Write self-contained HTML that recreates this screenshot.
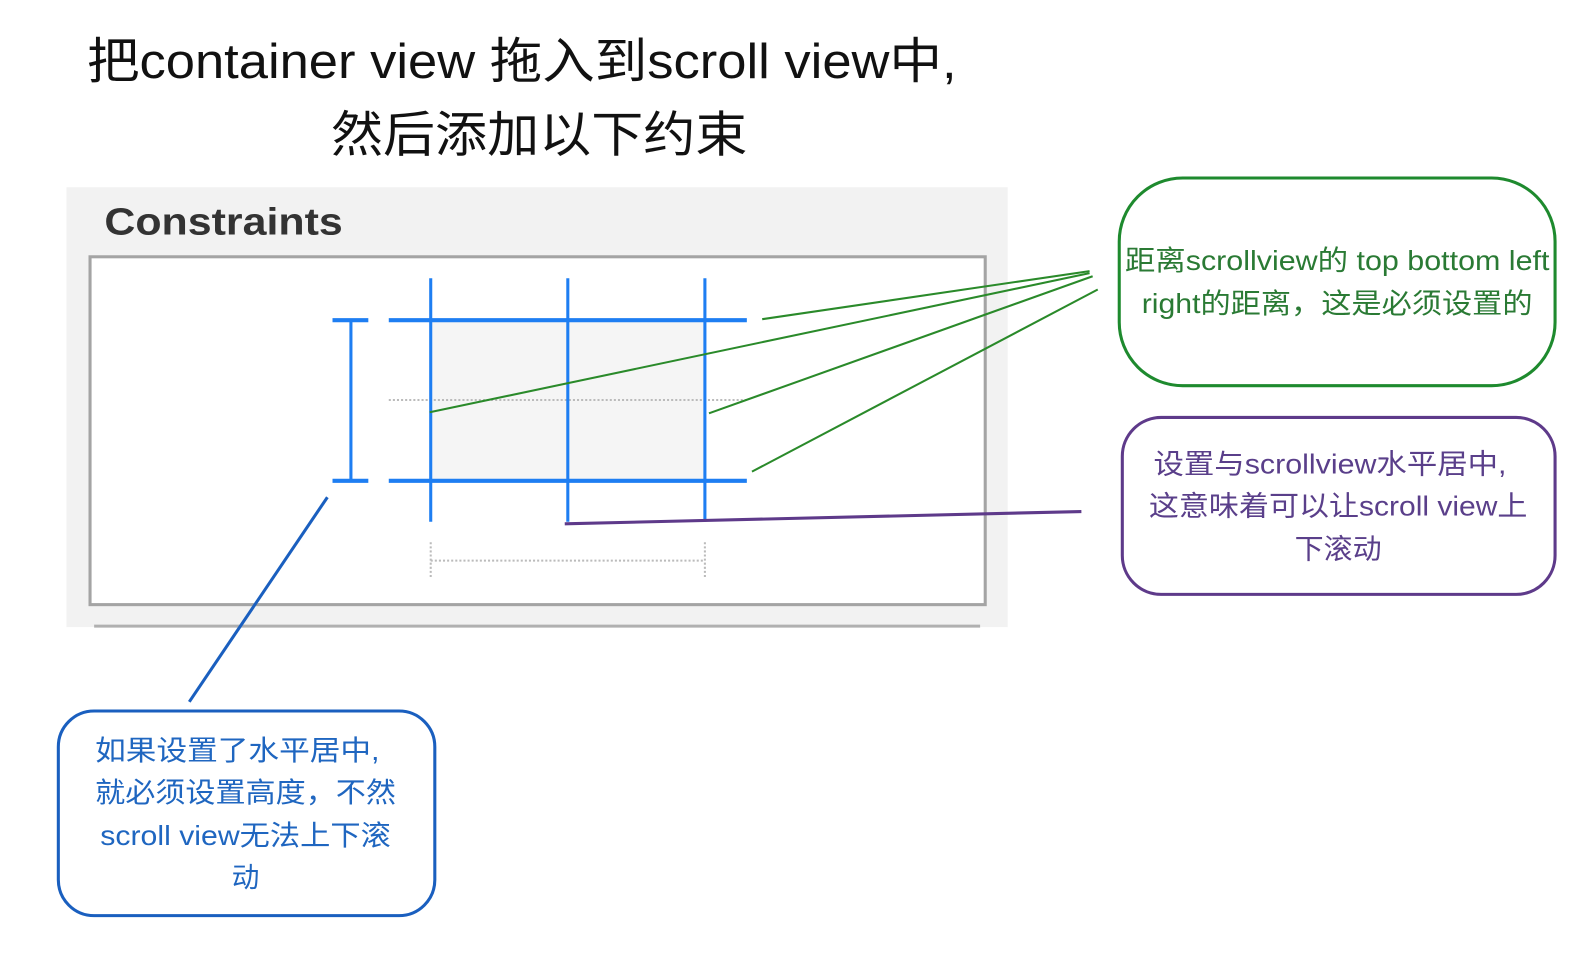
<!DOCTYPE html>
<html><head><meta charset="utf-8"><style>
html,body{margin:0;padding:0;background:#fff;width:1596px;height:976px;overflow:hidden}
svg{display:block}
text{font-family:"Liberation Sans","Noto Sans CJK SC",sans-serif}
</style></head><body>
<svg width="1596" height="976" viewBox="0 0 1560 954" xmlns="http://www.w3.org/2000/svg">
<text x="510" y="76" font-size="48" text-anchor="middle" fill="#111" textLength="850" lengthAdjust="spacingAndGlyphs">把container view 拖入到scroll view中,</text>
<text x="527" y="148" font-size="48" text-anchor="middle" fill="#111" textLength="407" lengthAdjust="spacingAndGlyphs">然后添加以下约束</text>
<rect x="65" y="183" width="920" height="430" fill="#f2f2f2"/>
<text x="102" y="229" font-size="37" font-weight="bold" fill="#333" textLength="233" lengthAdjust="spacingAndGlyphs">Constraints</text>
<rect x="88" y="251" width="875" height="340" fill="#fff" stroke="#a4a4a4" stroke-width="3"/>
<line x1="92" y1="612" x2="958" y2="612" stroke="#b0b0b0" stroke-width="3"/>
<rect x="421" y="313" width="268" height="157" fill="#f5f5f5"/>
<g stroke="#bbb" stroke-width="2" stroke-dasharray="2,2">
<line x1="380" y1="391" x2="730" y2="391"/>
<line x1="421" y1="548" x2="689" y2="548"/>
<line x1="421" y1="530" x2="421" y2="566"/>
<line x1="689" y1="530" x2="689" y2="566"/>
</g>
<g stroke="#1e7ef2" fill="none">
<line x1="421" y1="272" x2="421" y2="510" stroke-width="3"/>
<line x1="555" y1="272" x2="555" y2="510" stroke-width="3"/>
<line x1="689" y1="272" x2="689" y2="510" stroke-width="3"/>
<line x1="380" y1="313" x2="730" y2="313" stroke-width="4"/>
<line x1="380" y1="470" x2="730" y2="470" stroke-width="4"/>
<line x1="343" y1="313" x2="343" y2="470" stroke-width="3"/>
<line x1="325" y1="313" x2="360" y2="313" stroke-width="4"/>
<line x1="325" y1="470" x2="360" y2="470" stroke-width="4"/>
</g>
<g stroke="#2a8a2a" stroke-width="2">
<line x1="1065" y1="265" x2="745" y2="312"/>
<line x1="1065" y1="267" x2="420" y2="403"/>
<line x1="1068" y1="270" x2="693" y2="404"/>
<line x1="1073" y1="283" x2="735" y2="461"/>
</g>
<line x1="552" y1="512" x2="1057" y2="500" stroke="#5e3a8a" stroke-width="3"/>
<line x1="320" y1="486" x2="185" y2="686" stroke="#1a5fbf" stroke-width="3"/>
<rect x="1094" y="174" width="426" height="203" rx="62" fill="#fff" stroke="#1e8a2e" stroke-width="3"/>
<text x="1307" y="264" font-size="27" text-anchor="middle" fill="#2a7a34" textLength="415" lengthAdjust="spacingAndGlyphs">距离scrollview的 top bottom left</text>
<text x="1307" y="306" font-size="27" text-anchor="middle" fill="#2a7a34" textLength="382" lengthAdjust="spacingAndGlyphs">right的距离，这是必须设置的</text>
<rect x="1097" y="408" width="423" height="173" rx="38" fill="#fff" stroke="#5e3a8a" stroke-width="3"/>
<text x="1300" y="463" font-size="27" text-anchor="middle" fill="#5a3f8a" textLength="345" lengthAdjust="spacingAndGlyphs">设置与scrollview水平居中,</text>
<text x="1308" y="504" font-size="27" text-anchor="middle" fill="#5a3f8a" textLength="370" lengthAdjust="spacingAndGlyphs">这意味着可以让scroll view上</text>
<text x="1308" y="546" font-size="27" text-anchor="middle" fill="#5a3f8a" textLength="85" lengthAdjust="spacingAndGlyphs">下滚动</text>
<rect x="57" y="695" width="368" height="200" rx="35" fill="#fff" stroke="#1a5fbf" stroke-width="3"/>
<text x="232" y="743" font-size="27" text-anchor="middle" fill="#1f66c0" textLength="278" lengthAdjust="spacingAndGlyphs">如果设置了水平居中,</text>
<text x="240" y="784" font-size="27" text-anchor="middle" fill="#1f66c0" textLength="294" lengthAdjust="spacingAndGlyphs">就必须设置高度，不然</text>
<text x="240" y="826" font-size="27" text-anchor="middle" fill="#1f66c0" textLength="284" lengthAdjust="spacingAndGlyphs">scroll view无法上下滚</text>
<text x="240" y="867" font-size="27" text-anchor="middle" fill="#1f66c0">动</text>
</svg>
</body></html>
